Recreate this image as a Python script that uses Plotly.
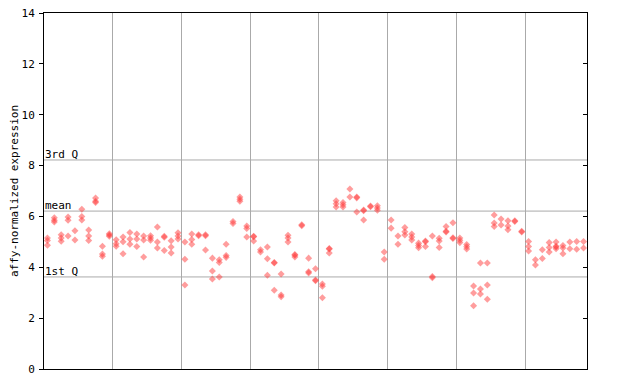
import plotly.graph_objects as go

# replicate values for each of the 79 samples (left to right)
sample_values = [
    [5.15, 5.05, 4.87], [5.95, 5.85, 5.78], [5.28, 5.15, 5.02], [5.98, 5.85, 5.23],
    [5.44, 5.07], [6.28, 6.0, 5.86], [5.47, 5.23, 5.05], [6.72, 6.6, 6.55],
    [4.83, 4.52, 4.43], [5.32, 5.27, 5.22], [5.08, 4.93, 4.83], [5.19, 5.0, 4.53],
    [5.37, 5.11, 4.91], [5.31, 5.11, 4.82], [5.23, 5.07, 4.4], [5.24, 5.15, 5.06],
    [5.58, 4.99, 4.76], [5.22, 5.18, 4.66], [5.04, 4.8, 4.56], [5.36, 5.23, 5.11],
    [4.99, 4.32, 3.30], [5.31, 5.09, 4.91], [5.28, 5.24], [5.28, 5.24, 4.68],
    [4.36, 3.85, 3.54], [4.3, 4.19, 3.62], [4.91, 4.46, 4.39], [5.8, 5.72],
    [6.76, 6.68, 6.6], [5.62, 5.53, 5.19], [5.22, 5.2, 5.03], [4.69, 4.6],
    [4.8, 4.34, 3.69], [4.19, 4.17, 3.1], [3.74, 2.91, 2.84], [5.26, 5.15, 4.99],
    [4.5, 4.47, 4.4], [5.67, 5.63], [4.36, 3.82, 3.78], [3.94, 3.5, 3.47],
    [3.34, 3.25, 2.8], [4.74, 4.72, 4.56], [6.62, 6.5, 6.37], [6.55, 6.46, 6.37],
    [7.08, 6.76], [6.76, 6.73, 6.17], [6.25, 6.22, 5.86], [6.41, 6.38],
    [6.42, 6.33, 6.24], [4.6, 4.32], [5.86, 5.54], [5.23, 4.91],
    [5.56, 5.4, 5.27], [5.31, 5.19, 5.07], [4.95, 4.86, 4.77], [5.03, 5.0, 4.82],
    [5.23, 3.64, 3.59], [5.14, 5.03, 4.78], [5.6, 5.42, 5.39], [5.75, 5.16, 5.13],
    [5.15, 5.06, 4.97], [4.9, 4.81, 4.72], [3.26, 2.99, 2.49], [4.17, 3.15, 2.95],
    [4.17, 3.3, 2.74], [6.06, 5.74, 5.6], [5.9, 5.66], [5.83, 5.62, 5.48],
    [5.83, 5.8], [5.42, 5.39], [5.01, 4.82, 4.64], [4.3, 4.09],
    [4.69, 4.35], [4.97, 4.78, 4.6], [4.99, 4.83, 4.8, 4.73], [4.86, 4.76, 4.53],
    [4.99, 4.73], [5.01, 4.71], [5.01, 4.76],
]

stat_names = ["3rd Q", "mean", "1st Q"]
stat_values = [8.22, 6.21, 3.62]

group_boundaries = [10.5, 20.5, 30.5, 40.5, 50.5, 60.5, 70.5]
y_ticks = [0, 2, 4, 6, 8, 10, 12, 14]

xs, ys = [], []
for i, vals in enumerate(sample_values, start=1):
    for v in vals:
        xs.append(i)
        ys.append(v)

n = len(sample_values)
mono = "DejaVu Sans Mono"

fig = go.Figure()
fig.add_trace(go.Scatter(
    x=xs, y=ys, mode="markers",
    marker=dict(symbol="diamond", size=5.4, color="rgba(255,60,60,0.5)",
                line=dict(width=0)),
    showlegend=False, hoverinfo="skip"))
fig.add_trace(go.Scatter(x=[None], y=[None], yaxis="y2", showlegend=False,
                         hoverinfo="skip"))

for name, val in zip(stat_names, stat_values):
    fig.add_shape(type="line", xref="x domain", x0=0, x1=1, yref="y",
                  y0=val, y1=val, line=dict(color="#aaaaaa", width=1), layer="below")
    fig.add_annotation(text=name, xref="x domain", x=0, yref="y", y=val,
                       xanchor="left", yanchor="bottom", showarrow=False,
                       xshift=-1, yshift=-3,
                       font=dict(family=mono, size=11, color="black"))

fig.update_layout(
    width=640, height=384,
    margin=dict(l=44, r=53, t=13, b=15, autoexpand=False),
    paper_bgcolor="white", plot_bgcolor="white",
    xaxis=dict(range=[0.5, n + 0.5], tickvals=group_boundaries,
               showticklabels=False, ticks="", showgrid=True,
               gridcolor="#aaaaaa", gridwidth=1, zeroline=False, automargin=False,
               showline=True, linecolor="black", linewidth=1, mirror=True),
    yaxis=dict(range=[0, 14], tickvals=y_ticks, ticks="outside", ticklen=4,
               tickcolor="black", showgrid=False, zeroline=False, automargin=False,
               showline=True, linecolor="black", linewidth=1, mirror=True,
               ticklabelstandoff=2,
               tickfont=dict(family=mono, size=11, color="black"),
               title=dict(text="affy-normalized expression",
                          font=dict(family=mono, size=11, color="black"),
                          standoff=0)),
    yaxis2=dict(range=[0, 14], tickvals=y_ticks, overlaying="y", side="right",
                ticks="inside", ticklen=4, tickcolor="black", automargin=False,
                showticklabels=False, showgrid=False, zeroline=False,
                showline=False),
)

fig.write_html("out.html", config={"displayModeBar": False},
               post_script="document.body.style.margin='0';")
